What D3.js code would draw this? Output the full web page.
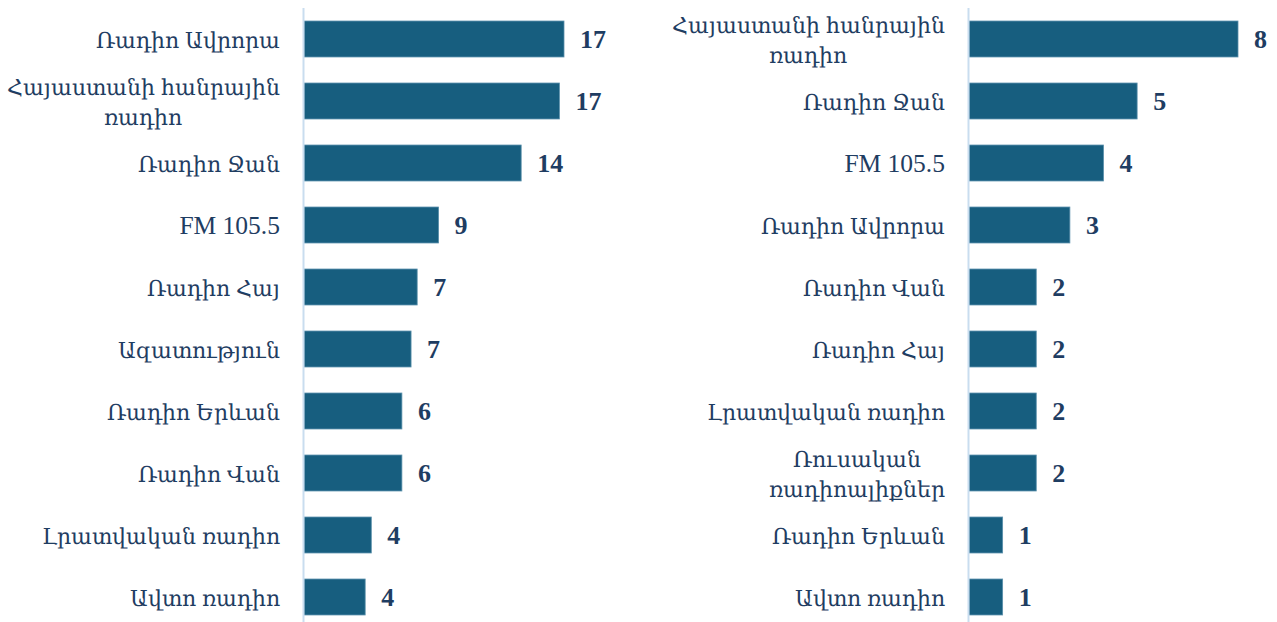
<!DOCTYPE html>
<html>
<head>
<meta charset="utf-8">
<script src="https://cdn.jsdelivr.net/npm/d3@7"></script>
<style>
  @font-face {
    font-family: "ArmSerif";
    src: local("DejaVu Serif"), local("DejaVuSerif");
    unicode-range: U+0530-058F, U+FB13-FB17;
    size-adjust: 86%;
  }
  html, body { margin: 0; padding: 0; background: #fff; }
  svg { display: block; }
</style>
</head>
<body>
<svg id="chart" width="1277" height="622"></svg>
<script>
// Left panel data
const leftCategories = [
  "Ռադիո Ավրորա",
  "Հայաստանի հանրային\nռադիո",
  "Ռադիո Ջան",
  "FM 105.5",
  "Ռադիո Հայ",
  "Ազատություն",
  "Ռադիո Երևան",
  "Ռադիո Վան",
  "Լրատվական ռադիո",
  "Ավտո ռադիո"
];
const leftValues = [17.0, 16.7, 14.2, 8.8, 7.4, 7.0, 6.4, 6.4, 4.4, 4.0];
const leftLabels = ["17", "17", "14", "9", "7", "7", "6", "6", "4", "4"];

// Right panel data
const rightCategories = [
  "Հայաստանի հանրային\nռադիո",
  "Ռադիո Ջան",
  "FM 105.5",
  "Ռադիո Ավրորա",
  "Ռադիո Վան",
  "Ռադիո Հայ",
  "Լրատվական ռադիո",
  "Ռուսական\nռադիոալիքներ",
  "Ռադիո Երևան",
  "Ավտո ռադիո"
];
const rightValues = [8, 5, 4, 3, 2, 2, 2, 2, 1, 1];
const rightLabels = ["8", "5", "4", "3", "2", "2", "2", "2", "1", "1"];

const svg = d3.select("#chart");
const FONT = "'Liberation Serif', 'ArmSerif', 'DejaVu Serif', serif";
const TEXT_COLOR = "#1f3d62";
const BAR_COLOR = "#175e7f";

function panel(cfg) {
  const g = svg.append("g");
  const y = d3.scaleBand()
    .domain(cfg.categories.map((d, i) => i))
    .range([8, 628])
    .paddingInner(0.42)
    .paddingOuter(0.21);
  const x = d3.scaleLinear()
    .domain([0, cfg.domainMax])
    .range([cfg.x0, cfg.x0 + cfg.width]);

  // bars
  g.selectAll("rect.bar")
    .data(cfg.values)
    .join("rect")
    .attr("class", "bar")
    .attr("x", x(0))
    .attr("y", (d, i) => y(i))
    .attr("width", d => x(d) - x(0))
    .attr("height", y.bandwidth())
    .attr("fill", BAR_COLOR)
    .attr("stroke", "#5a90ab")
    .attr("stroke-width", 0.8);

  // axis line
  g.append("line")
    .attr("x1", x(0) - 0.5).attr("x2", x(0) - 0.5)
    .attr("y1", 8).attr("y2", 622)
    .attr("stroke", "#c9ddef")
    .attr("stroke-width", 2);

  // value labels
  g.selectAll("text.val")
    .data(cfg.values)
    .join("text")
    .attr("class", "val")
    .attr("x", d => x(d) + 16)
    .attr("y", (d, i) => y(i) + y.bandwidth() / 2)
    .attr("dy", "0.35em")
    .attr("font-family", FONT)
    .attr("font-weight", "bold")
    .attr("font-size", 26)
    .attr("fill", TEXT_COLOR)
    .text((d, i) => cfg.labels[i]);

  // category labels (multi-line centered, block right-aligned)
  const right = x(0) - 24;
  cfg.categories.forEach((c, i) => {
    const lines = c.split("\n");
    const t = g.append("text")
      .attr("font-family", FONT)
      .attr("font-size", 25.5)
      .attr("fill", TEXT_COLOR)
      .attr("text-anchor", "middle");
    const lh = 29.5;
    const cy = y(i) + y.bandwidth() / 2;
    const tspans = lines.map((l, k) => t.append("tspan")
      .attr("y", cy + (k - (lines.length - 1) / 2) * lh)
      .attr("dy", "0.35em")
      .text(l));
    let maxW = 0;
    tspans.forEach(ts => { maxW = Math.max(maxW, ts.node().getComputedTextLength()); });
    tspans.forEach(ts => ts.attr("x", right - maxW / 2));
  });
}

function draw() {
  panel({ categories: leftCategories, values: leftValues, labels: leftLabels,
          x0: 304, width: 260, domainMax: 17 });
  panel({ categories: rightCategories, values: rightValues, labels: rightLabels,
          x0: 969, width: 269, domainMax: 8 });
}
if (document.fonts && document.fonts.load) {
  Promise.all([
    document.fonts.load("25.5px ArmSerif", "Ռադիո"),
    document.fonts.load("25.5px 'Liberation Serif'", "FM")
  ]).then(draw, draw);
} else {
  draw();
}
</script>
</body>
</html>
